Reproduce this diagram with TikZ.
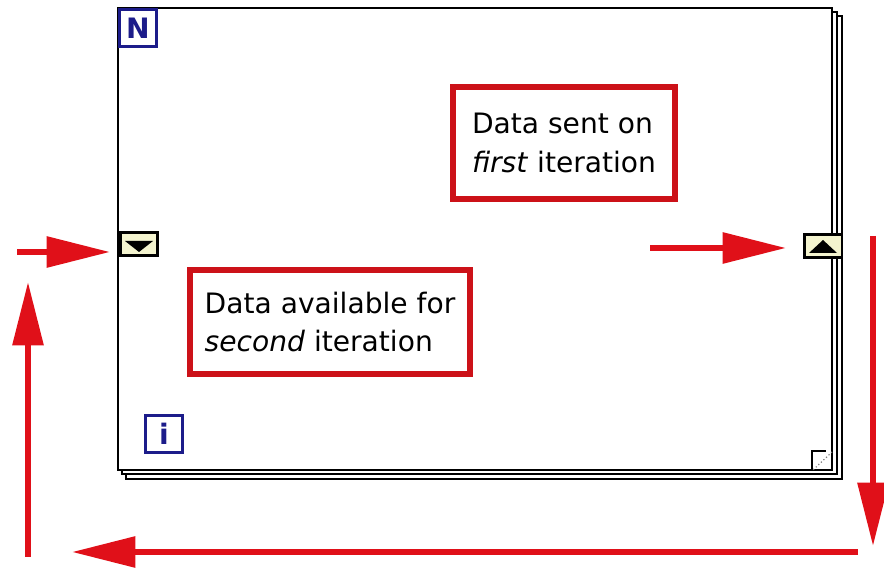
\documentclass[tikz,border=0pt]{standalone}
\usepackage{fontspec}
\setmainfont{DejaVu Sans}
\usetikzlibrary{arrows.meta,shadows}
\definecolor{notered}{HTML}{CC1118}
\definecolor{arrowred}{HTML}{E01019}
\definecolor{termblue}{HTML}{1C1C8A}
\definecolor{srfill}{HTML}{F4F4CF}
\begin{document}
\begin{tikzpicture}[x=0.03cm,y=-0.03cm,
	loopframe/.style={draw,line width=1.5pt,fill=white},
	note/.style={draw=notered,line width=5pt,fill=white,align=left,inner sep=0pt,
		font=\fontsize{24}{33}\selectfont,
		drop shadow={shadow xshift=2pt,shadow yshift=-2pt,opacity=.3}},
	term/.style={draw=termblue,line width=2.5pt,fill=white,text=termblue,
		font=\bfseries\fontsize{24}{24}\selectfont,minimum size=1.13cm,inner sep=0pt},
	shiftreg/.style={draw,line width=2pt,fill=srfill,minimum width=1.12cm,
		minimum height=0.7cm,inner sep=0pt},
	feed/.style={arrowred,line width=5pt,-{Triangle[length=1.9cm,width=0.9cm]}}]
	\useasboundingbox (0,0) rectangle (884,573);
	% while loop frame, drawn back to front
	\draw[loopframe] (126,16) rectangle (842,479);
	\draw[loopframe] (122,12) rectangle (837,474);
	\draw[loopframe] (118,8) rectangle (832,470);
	\draw[line width=1.2pt] (812,470) -- (812,451) -- (826,451);
	\draw[gray,dotted,line width=1pt] (832,452) -- (813,470);
	% terminals
	\node[term] (N) at (138,28) {N};
	\node[term] (i) at (164,434) {i};
	% shift registers
	\node[shiftreg] (lsr) at (139,244) {};
	\fill (lsr.center) ++(-14,-3) -- ++(28,0) -- ++(-14,11) -- cycle;
	\node[shiftreg] (rsr) at (823,246) {};
	\fill (rsr.center) ++(-14,7) -- ++(28,0) -- ++(-14,-13) -- cycle;
	% notes
	\node[note,minimum width=6.67cm,minimum height=3.34cm] (sent) at (564,143)
		{Data sent on\\\textit{first} iteration};
	\node[note,minimum width=8.38cm,minimum height=3.1cm] (avail) at (330,322)
		{Data available for\\\textit{second} iteration};
	% feedback path
	\coordinate (inA) at (17,252);
	\coordinate (inB) at (110,252);
	\coordinate (outA) at (650,248);
	\coordinate (outB) at (786,248);
	\coordinate (downA) at (873,236);
	\coordinate (downB) at (873,546);
	\coordinate (backA) at (858,552);
	\coordinate (backB) at (72,552);
	\coordinate (upA) at (28,557);
	\coordinate (upB) at (28,282);
	\draw[feed] (inA) -- (inB);
	\draw[feed] (outA) -- (outB);
	\draw[feed] (downA) -- (downB);
	\draw[feed] (backA) -- (backB);
	\draw[feed] (upA) -- (upB);
\end{tikzpicture}
\end{document}
